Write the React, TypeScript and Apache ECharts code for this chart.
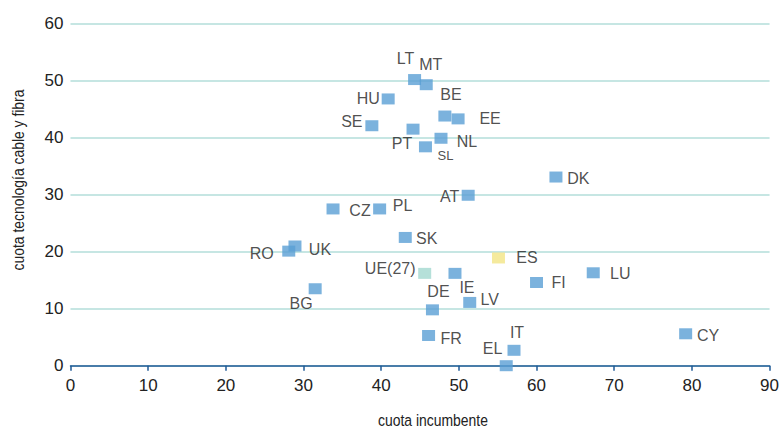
import React, { useEffect, useRef } from "react";
import * as echarts from "echarts";

const countries = ["LT","MT","HU","BE","EE","SE","PT","NL","SL","AT","CZ","PL","SK","UK","RO","ES","UE(27)","IE","BG","DE","LV","FR","IT","EL","DK","FI","LU","CY"];
const incumbentShare = [44.3,45.8,40.9,48.2,49.9,38.8,44.1,47.7,45.7,51.2,33.8,39.8,43.1,28.9,28.1,55.1,45.6,49.5,31.5,46.6,51.4,46.1,57.1,56.1,62.5,60.0,67.3,79.2];
const cableFibreShare = [50.2,49.3,46.8,43.8,43.3,42.1,41.5,39.9,38.4,29.9,27.5,27.5,22.5,21.0,20.1,18.9,16.2,16.2,13.5,9.8,11.1,5.3,2.7,0,33.1,14.6,16.3,5.6];
const xTicks = [0,10,20,30,40,50,60,70,80,90];
const yTicks = [0,10,20,30,40,50,60];

const labelOffsets: Record<string, [number, number]> = {
  LT: [-9, -21], MT: [4.5, -20], HU: [-20, 0], BE: [6, -22], EE: [32, 0], SE: [-20, -4],
  PT: [-11, 14], NL: [26, 3], SL: [20, 9], AT: [-18.5, 1], CZ: [27, 2], PL: [23, -3],
  SK: [21.5, 1], UK: [25, 3], RO: [-27, 2], ES: [28.5, 0], "UE(27)": [-34.5, -5], IE: [12, 14],
  BG: [-14, 15], DE: [6, -18], LV: [20, -2.6], FR: [22.5, 3], IT: [3, -18], EL: [-13.7, -17.4],
  DK: [22.4, 1.5], FI: [22, 0], LU: [27, 1], CY: [22.4, 1.4],
};
const specialColors: Record<string, string> = { ES: "#f2e585", "UE(27)": "#a3d8cf" };
const BLUE = "#5a9fd4";
const SANS = "'Liberation Sans', Arial, sans-serif";

export default function App() {
  const ref = useRef<HTMLDivElement>(null);
  useEffect(() => {
    document.body.style.margin = "0";
    if (!ref.current) return;
    const chart = echarts.init(ref.current, undefined, { renderer: "svg" });
    const data = countries.map((c, i) => ({
      name: c,
      value: [incumbentShare[i], cableFibreShare[i]],
      itemStyle: { color: specialColors[c] || BLUE },
      label: {
        offset: labelOffsets[c],
        fontSize: c === "SL" ? 13 : 16,
      },
    }));
    chart.setOption({
      animation: false,
      grid: { left: 70.5, right: 8, top: 23.7, bottom: 63.3 },
      xAxis: {
        type: "value", min: 0, max: 90, interval: 10,
        axisLine: { show: true, onZero: false, lineStyle: { color: "#1f5a96", width: 1.5 } },
        axisTick: { show: true, length: 5, lineStyle: { color: "#1f5a96", width: 1.5 } },
        axisLabel: { color: "#222", fontFamily: SANS, fontSize: 17, margin: 11,
          formatter: (v: number) => (xTicks.includes(v) ? String(v) : "") },
        splitLine: { show: false },
      },
      yAxis: {
        type: "value", min: 0, max: 60, interval: 10,
        axisLine: { show: false }, axisTick: { show: false },
        axisLabel: { color: "#222", fontFamily: SANS, fontSize: 17, margin: 7,
          formatter: (v: number) => (yTicks.includes(v) ? String(v) : "") },
        splitLine: { show: true, lineStyle: { color: "#c6e6e3", width: 2 } },
      },
      graphic: [
        { type: "text", x: 18, y: 180, rotation: Math.PI / 2, scaleX: 0.87,
          style: { text: "cuota tecnología cable y fibra", fill: "#222", font: `16px ${SANS}`, align: "center", verticalAlign: "middle" } },
        { type: "text", x: 433, y: 420, scaleX: 0.82,
          style: { text: "cuota incumbente", fill: "#222", font: `17px ${SANS}`, align: "center", verticalAlign: "middle" } },
      ],
      series: [{
        type: "scatter",
        symbol: "rect",
        symbolSize: [13, 11],
        data,
        label: {
          show: true, position: "inside", formatter: "{b}",
          color: "#222", fontFamily: SANS,
          align: "center", verticalAlign: "middle",
        },
        z: 3,
      }],
    });
    return () => chart.dispose();
  }, []);
  return <div ref={ref} style={{ width: 782, height: 429, position: "absolute", left: 0, top: 0 }} />;
}
